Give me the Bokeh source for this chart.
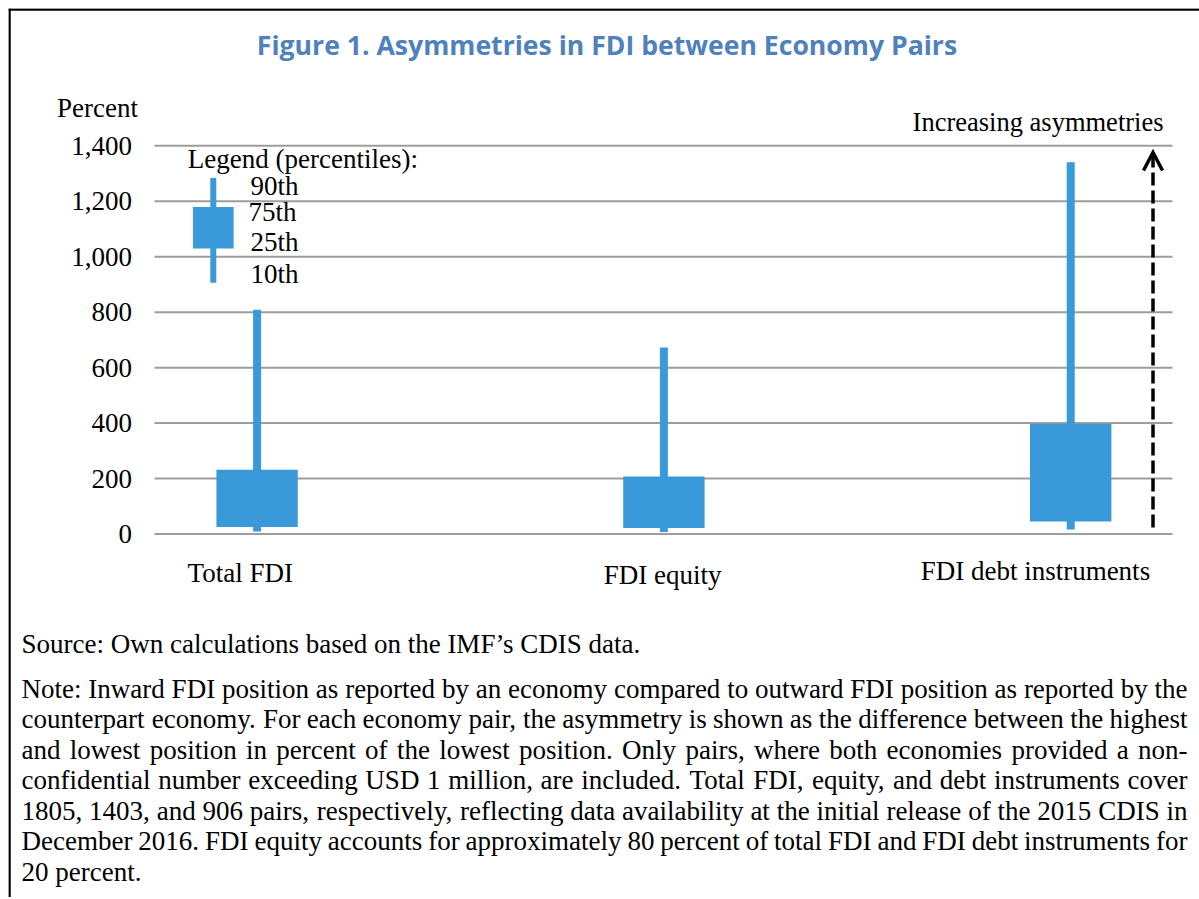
from bokeh.plotting import figure
from bokeh.models import Range1d, ColumnDataSource
from bokeh.core.properties import value
from bokeh.embed import file_html
from bokeh.resources import INLINE

# ---------------- data ----------------
categories = ["Total FDI", "FDI equity", "FDI debt instruments"]
p10 = [9, 7, 16]
p25 = [25, 22, 45]
p75 = [232, 207, 398]
p90 = [809, 673, 1341]

legend_names = ["10th", "25th", "75th", "90th"]
legend_vals = [906, 1030, 1179, 1284]

y_ticks = [0, 200, 400, 600, 800, 1000, 1200, 1400]

title_text = "Figure 1. Asymmetries in FDI between Economy Pairs"
y_title = "Percent"
arrow_text = "Increasing asymmetries"
legend_title = "Legend (percentiles):"
source_text = "Source: Own calculations based on the IMF\u2019s CDIS data."
note_lines = [
    "Note: Inward FDI position as reported by an economy compared to outward FDI position as reported by the",
    "counterpart economy. For each economy pair, the asymmetry is shown as the difference between the highest",
    "and lowest position in percent of the lowest position. Only pairs, where both economies provided a non-",
    "confidential number exceeding USD 1 million, are included. Total FDI, equity, and debt instruments cover",
    "1805, 1403, and 906 pairs, respectively, reflecting data availability at the initial release of the 2015 CDIS in",
    "December 2016. FDI equity accounts for approximately 80 percent of total FDI and FDI debt instruments for",
    "20 percent.",
]

# ---------------- style / layout ----------------
BLUE = "#3A99D8"
TITLE_BLUE = "#4F81BD"
GRID = "#9d9d9d"
SERIF = "Liberation Serif"
FSN = 27
FS = f"{FSN}px"

W, H = 1200, 889
CL, CT = 8, 8              # page position of the canvas
XPX, X_ORG = 406.8, 256.6  # px per category step, page x of first category
YPX, Y_ORG = 0.277286, 533.5  # px per percent, page y of zero

X0 = (CL - X_ORG) / XPX
X1 = (CL + W - X_ORG) / XPX
Y0 = (Y_ORG - (CT + H)) / YPX
Y1 = (Y_ORG - CT) / YPX


def dx(xp):
    return (xp - X_ORG) / XPX


def dy(yp):
    return (Y_ORG - yp) / YPX


p = figure(width=W, height=H, output_backend="svg", toolbar_location=None,
           x_range=Range1d(X0, X1), y_range=Range1d(Y0, Y1),
           x_axis_location=None, y_axis_location=None, min_border=0)
p.outline_line_color = None
p.background_fill_color = "white"
p.border_fill_color = "white"
p.grid.visible = False
p.styles = {"margin-left": "8px", "margin-top": "8px", "margin-right": "-20px"}

# frame border (left and top)
p.segment(x0=[dx(9), dx(8)], y0=[dy(8), dy(9)], x1=[dx(9), dx(1210)], y1=[dy(899), dy(9)],
          line_color="black", line_width=2.5)

# horizontal grid lines and tick labels (value axis)
GX0, GX1 = dx(154), dx(1172)
p.segment(x0=[GX0] * len(y_ticks), x1=[GX1] * len(y_ticks), y0=y_ticks, y1=y_ticks,
          line_color=GRID, line_width=2)
p.text(x=[dx(131.5)] * len(y_ticks), y=y_ticks, text=[f"{t:,}" for t in y_ticks],
       text_align="right", text_baseline="middle", text_font=value(SERIF),
       text_font_size=value(FS), text_color="black")

# category labels
xs = list(range(len(categories)))
label_dx = [-0.0413, -0.0032, -0.0868]
label_y = [572.5, 574.5, 570.5]
p.text(x=[x + d for x, d in zip(xs, label_dx)], y=[dy(v) for v in label_y], text=categories,
       text_align="center", text_baseline="middle", text_font=value(SERIF),
       text_font_size=value(FS), text_color="black")

# boxes and whiskers
src = ColumnDataSource(dict(x=xs, cat=categories, p10=p10, p25=p25, p75=p75, p90=p90))
p.segment(x0="x", y0="p10", x1="x", y1="p90", source=src, line_color=BLUE, line_width=8)
p.vbar(x="x", bottom="p25", top="p75", width=0.2, source=src, fill_color=BLUE, line_color=None)

# legend sample
LEG_X = dx(212.8)
lsrc = ColumnDataSource(dict(x=[LEG_X], lo=[legend_vals[0]], q1=[legend_vals[1]],
                             q3=[legend_vals[2]], hi=[legend_vals[3]]))
p.segment(x0="x", y0="lo", x1="x", y1="hi", source=lsrc, line_color=BLUE, line_width=6)
p.vbar(x="x", bottom="q1", top="q3", width=0.1, source=lsrc, fill_color=BLUE, line_color=None)


def label(text, xp, yp, align="left", font=SERIF, size=FS, style="normal", color="black"):
    p.text(x=[dx(xp)], y=[dy(yp)], text=[text], text_align=align,
           text_baseline="middle", text_font=value(font),
           text_font_size=value(size), text_font_style=style, text_color=color)


legend_pos = [(250, 273.3), (250, 241.7), (248, 211.7), (250, 185.8)]
for name, (lx, ly) in zip(legend_names, legend_pos):
    label(name, lx, ly)
label(legend_title, 187.3, 158)

# "increasing asymmetries" arrow: dashed shaft and open head
AXP, TIP, BOT = 1152.5, 152, 527
p.segment(x0=[dx(AXP)], y0=[dy(BOT)], x1=[dx(AXP)], y1=[dy(TIP + 3)],
          line_color="black", line_width=3.5, line_dash="13 5")
p.line(x=[dx(AXP - 9.5), dx(AXP), dx(AXP + 9.5)], y=[dy(TIP + 18), dy(TIP), dy(TIP + 18)],
       line_color="black", line_width=3.5, line_join="miter")
label(arrow_text, 1163, 121, align="right", size="26.5px")
label(y_title, 56.6, 107.7)

# title
label(title_text, 606.5, 44, align="center", font="Open Sans", size="26.6px", style="bold", color=TITLE_BLUE)

# source
label(source_text, 21, 643)

# notes: justified between the text margins, word by word
TIMES = {" ": 250, ",": 250, ".": 250, "-": 333, ":": 278, "\u2019": 333, "(": 333, ")": 333,
         "A": 722, "C": 667, "D": 722, "F": 556, "I": 333, "M": 889, "N": 722, "O": 722,
         "S": 556, "T": 611, "U": 722,
         "a": 444, "b": 500, "c": 444, "d": 500, "e": 444, "f": 333, "g": 500, "h": 500,
         "i": 278, "j": 278, "k": 500, "l": 278, "m": 778, "n": 500, "o": 500, "p": 500,
         "q": 500, "r": 333, "s": 389, "t": 278, "u": 500, "v": 500, "w": 722, "x": 500,
         "y": 500, "z": 444}


def tw(s):
    return sum(TIMES.get(ch, 500) for ch in s) * FSN / 1000.0


TL, TR = 21, 1187
first = dict(x=[], y=[], t=[])
mid = dict(x=[], y=[], t=[])
last = dict(x=[], y=[], t=[])
for i, line in enumerate(note_lines):
    yc = dy(688.2 + 30.55 * i)
    words = line.split(" ")
    if i == len(note_lines) - 1:
        first["x"].append(dx(TL)); first["y"].append(yc); first["t"].append(line)
        continue
    widths = [tw(w) for w in words]
    gap = (TR - TL - sum(widths)) / (len(words) - 1)
    cur = TL
    for j, (w, wd) in enumerate(zip(words, widths)):
        if j == 0:
            first["x"].append(dx(cur)); first["y"].append(yc); first["t"].append(w)
        elif j == len(words) - 1:
            last["x"].append(dx(TR)); last["y"].append(yc); last["t"].append(w)
        else:
            mid["x"].append(dx(cur + wd / 2)); mid["y"].append(yc); mid["t"].append(w)
        cur += wd + gap

for d, al in ((first, "left"), (mid, "center"), (last, "right")):
    p.text(x="x", y="y", text="t", source=ColumnDataSource(d), text_align=al,
           text_baseline="middle", text_font=value(SERIF), text_font_size=value(FS),
           text_color="black")

open("out.html", "w").write(file_html(p, INLINE))
